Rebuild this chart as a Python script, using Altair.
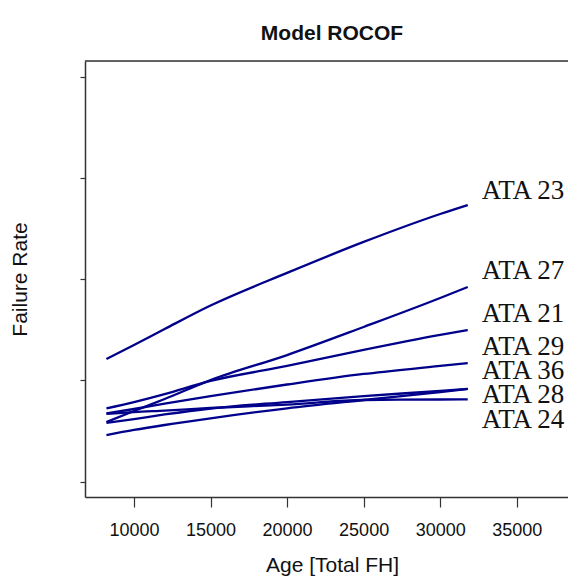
import altair as alt
import pandas as pd

# Age grid (total flight hours) at which the curves were read
x_fh = [8200, 10000, 12000, 15000, 20000, 25000, 30000, 31800]

# ROCOF curves (y in axis-tick units; axis labels are blank in the original)
ata23 = [1.212, 1.350, 1.508, 1.740, 2.062, 2.368, 2.644, 2.733]
ata27 = [0.590, 0.698, 0.817, 1.004, 1.251, 1.528, 1.814, 1.923]
ata21 = [0.725, 0.787, 0.866, 0.995, 1.143, 1.301, 1.449, 1.498]
ata29 = [0.674, 0.718, 0.772, 0.846, 0.960, 1.064, 1.143, 1.172]
ata36 = [0.580, 0.619, 0.664, 0.723, 0.787, 0.846, 0.896, 0.916]
ata28 = [0.461, 0.511, 0.560, 0.626, 0.725, 0.807, 0.886, 0.916]
ata24 = [0.669, 0.688, 0.703, 0.728, 0.762, 0.807, 0.812, 0.814]

series_names = ["ATA 23", "ATA 27", "ATA 21", "ATA 29", "ATA 36", "ATA 28", "ATA 24"]
series_values = [ata23, ata27, ata21, ata29, ata36, ata28, ata24]

# label baselines (spread apart as in the original)
label_y = [2.789, 1.999, 1.580, 1.251, 1.011, 0.774, 0.527]

x_ticks = [10000, 15000, 20000, 25000, 30000, 35000]
y_ticks = [0, 1, 2, 3, 4]

rows = []
for name, vals in zip(series_names, series_values):
    for xv, yv in zip(x_fh, vals):
        rows.append({"series": name, "fh": xv, "rate": yv})
df = pd.DataFrame(rows)

lab = pd.DataFrame({"series": series_names,
                    "fh": [x_fh[-1]] * len(series_names),
                    "rate": label_y})

W, H = 483, 436
xscale = alt.Scale(domain=[6799, 38350], nice=False, zero=False)
yscale = alt.Scale(domain=[-0.151, 4.155], nice=False, zero=False)

xaxis = alt.Axis(values=x_ticks, format="d", grid=False,
                 labelFont="Liberation Sans", labelFontSize=18, labelColor="#111",
                 labelPadding=14, labelFlush=False, labelOverlap=False,
                 tickSize=10, tickColor="#333", tickWidth=1.2,
                 domainColor="#333", domainWidth=1.5,
                 title="Age [Total FH]", titleFont="Liberation Sans",
                 titleFontSize=21, titleFontWeight="normal", titleColor="#111",
                 titleBaseline="alphabetic", titleAlign="center",
                 titleX=247, titleY=74.7)

yaxis = alt.Axis(values=y_ticks, labels=False, grid=False,
                 tickSize=5, tickColor="#333", tickWidth=1.2,
                 domainColor="#333", domainWidth=1.5,
                 title="Failure Rate", titleFont="Liberation Sans",
                 titleFontSize=21, titleFontWeight="normal", titleColor="#111",
                 titleAngle=270, titleBaseline="alphabetic", titleAlign="center",
                 titleX=-59, titleY=H / 2)

lines = alt.Chart(df).mark_line(color="#00008B", strokeWidth=2.3,
                                interpolate="monotone").encode(
    x=alt.X("fh:Q", scale=xscale, axis=xaxis),
    y=alt.Y("rate:Q", scale=yscale, axis=yaxis),
    detail="series:N",
)

labels = alt.Chart(lab).mark_text(
    align="left", baseline="alphabetic", dx=14,
    font="Liberation Serif", fontSize=27, color="#111",
).encode(
    x=alt.X("fh:Q", scale=xscale),
    y=alt.Y("rate:Q", scale=yscale),
    text="series:N",
)

topline = alt.Chart(pd.DataFrame({"a": [0]})).mark_rule(
    color="#333", strokeWidth=1.5
).encode(x=alt.value(0), x2=alt.value(W), y=alt.value(0))

chart = alt.layer(lines, labels, topline).properties(
    width=W, height=H,
    title=alt.Title("Model ROCOF", font="Liberation Sans", fontSize=21,
                    fontWeight="bold", color="#111", anchor="middle",
                    frame="group", baseline="alphabetic", offset=-1, dx=5.5),
    padding={"left": 77, "top": 53, "right": 0, "bottom": 80},
    autosize=alt.AutoSizeParams(type="none"),
).configure_view(strokeWidth=0).configure(background="white")

chart.save("out.html", embed_options={"renderer": "svg", "actions": False})
